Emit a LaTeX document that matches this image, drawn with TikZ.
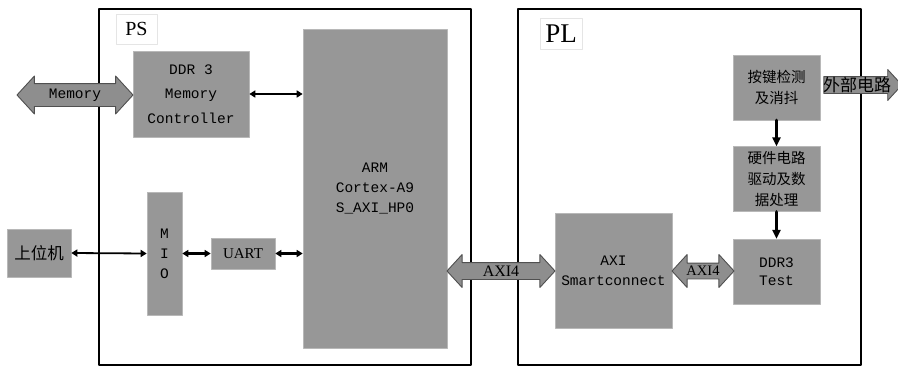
\documentclass[tikz,border=0pt]{standalone}
\usepackage{fontspec}
\setmainfont{Liberation Serif}
\newfontfamily\cjk{Noto Sans CJK SC}
\newfontfamily\monof{Liberation Mono}
\usepackage{tikz}
\usetikzlibrary{arrows.meta,positioning,calc,shapes.arrows}
\definecolor{boxgray}{HTML}{979797}
\definecolor{boxedge}{HTML}{B8B8B8}
\definecolor{fatgray}{HTML}{8E8E8E}
\definecolor{fatedge}{HTML}{505050}
\tikzset{
    every picture/.style={line cap=round,line join=round},
    blockbox/.style={draw=boxedge,fill=boxgray,line width=0.6pt,inner sep=0pt,
      align=center,font=\monof\fontsize{14.5}{20}\selectfont},
    cjkbox/.style={blockbox,font=\cjk\fontsize{14.5}{21}\selectfont},
    framebox/.style={draw=black,line width=2.2pt,line cap=butt},
    tagbox/.style={draw=black!10,fill=white,line width=0.4pt,inner sep=0pt},
    linkarrow/.style={{Triangle[length=6pt,width=7pt]}-{Triangle[length=6pt,width=7pt]},
      draw=black,line width=2.2pt},
    downarrow/.style={-{Triangle[length=9pt,width=8pt]},draw=black,line width=3.6pt},
    fatarrow/.style={double arrow,draw=fatedge,fill=fatgray,line width=0.9pt,
      inner xsep=0pt,double arrow tip angle=95},
    fatsingle/.style={single arrow,draw=fatedge,fill=fatgray,line width=0.9pt,
      inner xsep=0pt,single arrow tip angle=95}
}

\begin{document}
\begin{tikzpicture}[x=1pt,y=-1pt]
  \useasboundingbox (0,0) rectangle (898,367);
  % PS and PL frames
  \draw[framebox] (99,9) rectangle (471,365);
  \draw[framebox] (518,9) rectangle (861,365);
  \node[tagbox,minimum width=41pt,minimum height=30pt,font=\fontsize{20}{20}\selectfont]
    (pstag) at (136.5,29) {PS};
  \node[tagbox,minimum width=42pt,minimum height=31pt,font=\fontsize{27}{27}\selectfont]
    (pltag) at (561,33.5) {PL};
  % PS side
  \node[blockbox,minimum width=116pt,minimum height=86pt,
    font=\monof\fontsize{14.5}{24.5}\selectfont] (ddrc) at (191,94)
    {DDR 3\\Memory\\Controller};
  \node[blockbox,minimum width=144pt,minimum height=319pt] (arm) at (375,188.5)
    {ARM\\Cortex-A9\\S\_AXI\_HP0};
  \node[cjkbox,minimum width=64pt,minimum height=48pt,
    font=\cjk\fontsize{16.5}{16.5}\selectfont] (host) at (39,253) {上位机};
  \node[blockbox,minimum width=35pt,minimum height=123pt] (mio) at (164.5,253.5)
    {M\\I\\O};
  \node[blockbox,minimum width=64pt,minimum height=31pt,
    font=\fontsize{15}{15}\selectfont] (uart) at (243,253.5) {UART};
  % PL side
  \node[blockbox,minimum width=117pt,minimum height=115pt] (axisc) at (613.5,270.5)
    {AXI\\Smartconnect};
  \node[cjkbox,minimum width=87pt,minimum height=65pt] (keyb) at (776.5,87.5)
    {按键检测\\及消抖};
  \node[cjkbox,minimum width=87pt,minimum height=65pt,below=26pt of keyb] (hwdrv)
    {硬件电路\\驱动及数\\据处理};
  \node[blockbox,minimum width=87pt,minimum height=65pt,below=27pt of hwdrv,
    font=\monof\fontsize{14.5}{18.5}\selectfont] (ddrt) {DDR3\\Test};
  % fat bus arrows
  \node[fatarrow,minimum height=116pt,inner ysep=11pt,double arrow head extend=7.5pt,
    label={[font=\monof\fontsize{14.5}{14.5}\selectfont]center:Memory}]
    (membus) at (75,95) {};
  \node[fatarrow,minimum height=108pt,inner ysep=8pt,double arrow head extend=8pt,
    label={[font=\fontsize{16}{16}\selectfont]center:AXI4}]
    (axibus) at (501,271) {};
  \node[fatarrow,minimum height=62pt,inner ysep=7.5pt,double arrow head extend=8.5pt,
    label={[font=\fontsize{14.5}{14.5}\selectfont]center:AXI4}]
    (axilink) at (703,271) {};
  \node[fatsingle,minimum height=78pt,inner ysep=8pt,single arrow head extend=7pt,
    label={[font=\cjk\fontsize{17}{17}\selectfont,xshift=-2pt]center:外部电路}]
    (extout) at (859,85) {};
  % links
  \draw[linkarrow] (ddrc.east) -- (ddrc.east -| arm.west);
  \draw[linkarrow,line width=1.8pt] (host.east) -- (mio.west);
  \draw[linkarrow,line width=2.6pt] (mio.east) -- (uart.west);
  \draw[linkarrow,line width=2.6pt] (uart.east) -- (uart.east -| arm.west);
  \draw[downarrow] (keyb.south) -- (hwdrv.north);
  \draw[downarrow] (hwdrv.south) -- (ddrt.north);
\end{tikzpicture}
\end{document}
